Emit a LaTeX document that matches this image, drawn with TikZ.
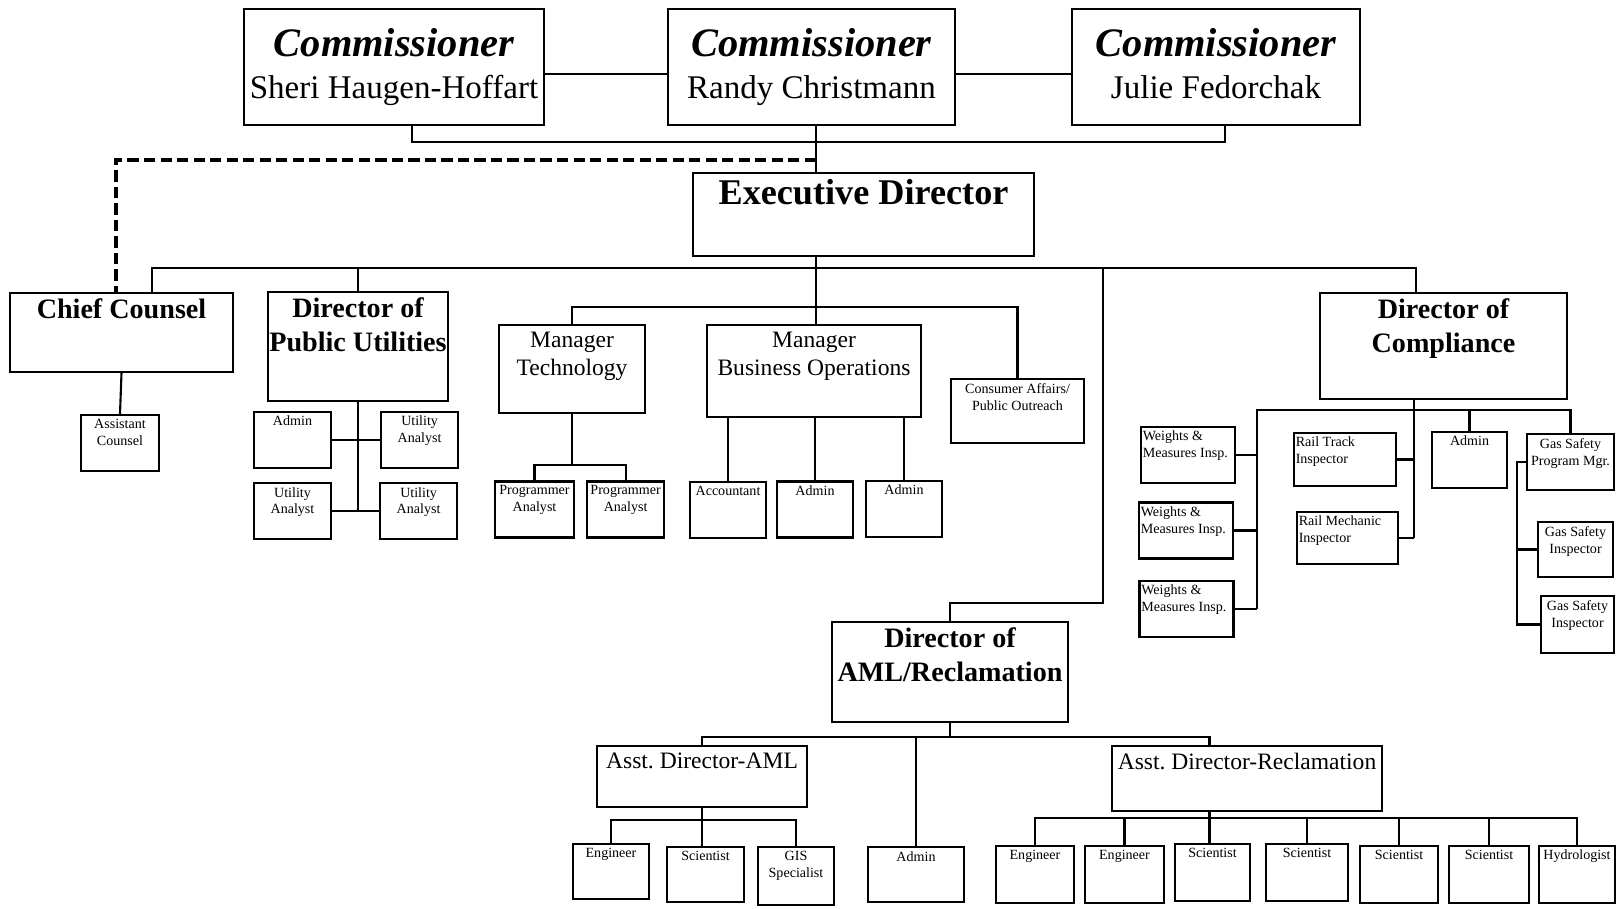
\documentclass[tikz,border=0pt]{standalone}
\usepackage{fontspec}
\setmainfont{Liberation Serif}
\usetikzlibrary{positioning}

\newcommand{\commtitle}{{\fontsize{11.5}{12.2}\selectfont\bfseries\itshape Commissioner}}

\begin{document}
\begin{tikzpicture}[
    box/.style={rectangle, draw, line width=0.6pt, inner sep=0pt},
    sbox/.style={box, minimum width=0.77cm, minimum height=0.56cm},
    commbox/.style={box, minimum height=1.16cm, align=center, font=\fontsize{9.4}{12.2}\selectfont},
    ttl/.style={font=\fontsize{8}{9.8}\selectfont\bfseries, align=center, anchor=north, inner sep=1.6pt},
    mgrtxt/.style={font=\fontsize{6.7}{8.2}\selectfont, align=center, anchor=north, inner sep=2pt},
    sm/.style={font=\fontsize{4}{4.8}\selectfont, align=center, anchor=north, inner sep=1.3pt},
    sml/.style={sm, align=left, anchor=north west, inner xsep=0.6pt},
    link/.style={line width=0.6pt},
    liaison/.style={line width=0.9pt, dash pattern=on 3.2pt off 1.5pt}
]
\useasboundingbox (0,0) rectangle (16.17,-9.08);
% Commissioners
\node[commbox, minimum width=3cm] (c1) at (3.94,-0.67) {\commtitle\\Sheri Haugen-Hoffart};
\node[commbox, minimum width=2.87cm] (c2) at (8.115,-0.67) {\commtitle\\Randy Christmann};
\node[commbox, minimum width=2.88cm] (c3) at (12.16,-0.67) {\commtitle\\Julie Fedorchak\vphantom{g}};
% Executive Director
\node[box, minimum width=3.41cm, minimum height=0.83cm,
      label={[ttl, font=\fontsize{10.3}{12}\selectfont\bfseries, inner sep=2pt]north:Executive Director}] (exec) at (8.635,-2.145) {};
% Directors
\node[box, minimum width=2.23cm, minimum height=0.79cm, label={[ttl]north:Chief Counsel}] (cc) at (1.215,-3.325) {};
\node[box, minimum width=1.8cm, minimum height=1.09cm, label={[ttl]north:Director of\\Public Utilities}] (dpu) at (3.58,-3.465) {};
\node[box, minimum width=2.47cm, minimum height=1.06cm, label={[ttl]north:Director of\\Compliance}] (comp) at (14.435,-3.46) {};
\node[box, minimum width=2.36cm, minimum height=1cm, label={[ttl]north:Director of\\AML/Reclamation}] (aml) at (9.5,-6.72) {};
% Managers
\node[box, minimum width=1.46cm, minimum height=0.88cm, label={[mgrtxt]north:Manager\\Technology}] (mtech) at (5.72,-3.69) {};
\node[box, minimum width=2.14cm, minimum height=0.92cm, label={[mgrtxt]north:Manager\\Business Operations}] (bizops) at (8.14,-3.71) {};
\node[box, minimum width=1.33cm, minimum height=0.64cm, label={[sm]north:Consumer Affairs/\\Public Outreach}] (cons) at (10.175,-4.11) {};
\node[box, minimum width=2.1cm, minimum height=0.61cm, label={[mgrtxt]north:Asst.\ Director-AML}] (aaml) at (7.02,-7.765) {};
\node[box, minimum width=2.7cm, minimum height=0.65cm, label={[mgrtxt]north:Asst.\ Director-Reclamation}] (arec) at (12.47,-7.785) {};
% Chief Counsel staff
\node[sbox, minimum width=0.78cm, label={[sm]north:Assistant\\Counsel}] (ac) at (1.2,-4.43) {};
% Public Utilities staff
\node[sbox, label={[sm]north:Admin}] (padm) at (2.925,-4.4) {};
\node[sbox, right=0.48cm of padm, label={[sm]north:Utility\\Analyst}] (ua1) {};
\node[sbox, below=0.13cm of padm, label={[sm]north:Utility\\Analyst}] (ua2) {};
\node[sbox, right=0.47cm of ua2, label={[sm]north:Utility\\Analyst}] (ua3) {};
% Technology staff
\node[sbox, minimum width=0.79cm, label={[sm]north:Programmer\\Analyst}] (pa1) at (5.345,-5.095) {};
\node[sbox, right=0.11cm of pa1, label={[sm]north:Programmer\\Analyst}] (pa2) {};
% Business Operations staff
\node[sbox, minimum width=0.76cm, label={[sm]north:Accountant}] (acc) at (7.28,-5.1) {};
\node[sbox, minimum width=0.76cm, label={[sm]north:Admin}] (badm1) at (8.15,-5.095) {};
\node[sbox, minimum width=0.76cm, label={[sm]north:Admin}] (badm2) at (9.04,-5.09) {};
% Compliance staff
\node[sbox, minimum width=0.94cm, label={[sml]north west:Weights \&\\Measures Insp.}] (wm1) at (11.88,-4.55) {};
\node[sbox, minimum width=0.94cm, label={[sml]north west:Weights \&\\Measures Insp.}] (wm2) at (11.86,-5.305) {};
\node[sbox, minimum width=0.94cm, label={[sml]north west:Weights \&\\Measures Insp.}] (wm3) at (11.865,-6.09) {};
\node[sbox, minimum width=1.02cm, minimum height=0.53cm, label={[sml]north west:Rail Track\\Inspector}] (rt) at (13.45,-4.595) {};
\node[sbox, minimum width=1.01cm, minimum height=0.52cm, label={[sml]north west:Rail Mechanic\\Inspector}] (rm) at (13.475,-5.38) {};
\node[sbox, minimum width=0.75cm, label={[sm]north:Admin}] (cadm) at (14.695,-4.6) {};
\node[sbox, minimum width=0.87cm, label={[sm]north:Gas Safety\\Program Mgr.}] (gspm) at (15.705,-4.62) {};
\node[sbox, minimum width=0.75cm, minimum height=0.55cm, label={[sm]north:Gas Safety\\Inspector}] (gs1) at (15.755,-5.495) {};
\node[sbox, minimum width=0.73cm, minimum height=0.57cm, label={[sm]north:Gas Safety\\Inspector}] (gs2) at (15.775,-6.245) {};
% AML staff
\node[sbox, minimum width=0.76cm, minimum height=0.55cm, label={[sm]north:Engineer}] (en0) at (6.11,-8.715) {};
\node[sbox, minimum height=0.55cm, label={[sm]north:Scientist}] (sc0) at (7.055,-8.745) {};
\node[sbox, minimum width=0.76cm, minimum height=0.58cm, label={[sm]north:GIS\\Specialist}] (gis) at (7.96,-8.76) {};
\node[sbox, minimum width=0.96cm, minimum height=0.55cm, label={[sm]north:Admin}] (aadm) at (9.16,-8.745) {};
% Reclamation staff
\node[sbox, minimum width=0.78cm, minimum height=0.57cm, label={[sm]north:Engineer}] (e1) at (10.35,-8.745) {};
\node[sbox, minimum width=0.79cm, minimum height=0.57cm, label={[sm]north:Engineer}] (e2) at (11.245,-8.745) {};
\node[sbox, minimum width=0.75cm, minimum height=0.57cm, label={[sm]north:Scientist}] (s1) at (12.125,-8.725) {};
\node[sbox, minimum width=0.82cm, minimum height=0.57cm, label={[sm]north:Scientist}] (s2) at (13.07,-8.725) {};
\node[sbox, minimum width=0.78cm, minimum height=0.57cm, label={[sm]north:Scientist}] (s3) at (13.99,-8.745) {};
\node[sbox, minimum width=0.8cm, minimum height=0.57cm, label={[sm]north:Scientist}] (s4) at (14.89,-8.745) {};
\node[sbox, minimum width=0.76cm, minimum height=0.57cm, label={[sm]north:Hydrologist}] (hy) at (15.77,-8.745) {};
% Commission lines
\coordinate (trunk) at (8.16,-1.42);
\coordinate (side) at (0,-0.74);
\coordinate (dropL) at (4.12,0);
\coordinate (dropR) at (12.25,0);
\draw[link] (c1.east |- side) -- (c2.west |- side);
\draw[link] (c2.east |- side) -- (c3.west |- side);
\draw[link] (dropL |- c1.south) |- (trunk) -| (dropR |- c3.south);
\draw[link] (c2.south -| trunk) -- (exec.north -| trunk);
\coordinate (adv) at (1.16,-1.6);
\draw[liaison] (adv -| trunk) -- (adv) -- (adv |- cc.north);
% Director row
\coordinate (rowL) at (1.52,-2.68);
\coordinate (rowR) at (14.16,-2.68);
\draw[link] (exec.south -| trunk) -- (bizops.north -| trunk);
\draw[link] (rowL |- cc.north) -- (rowL) -- (rowR) -- (rowR |- comp.north);
\draw[link] (dpu.north) -- (dpu.north |- rowL);
\coordinate (amlx) at (11.03,-6.03);
\draw[link] (amlx |- rowL) -- (amlx) -| (aml.north);
\coordinate (mgrbus) at (8.16,-3.07);
\draw[link] (mtech.north) |- (mgrbus) -| (cons.north);
% Chief Counsel and Public Utilities
\draw[link] (cc.south) -- (ac.north);
\draw[link] (dpu.south) -- (dpu.south |- ua2.east);
\draw[link] (padm.east) -- (ua1.west);
\draw[link] (ua2.east) -- (ua3.west);
% Technology and Business Operations
\coordinate (techbus) at (5.72,-4.65);
\draw[link] (mtech.south) -- (techbus);
\draw[link] (pa1.north) |- (techbus) -| (pa2.north);
\foreach \n in {acc,badm1,badm2}
    \draw[link] (\n.north) -- (\n.north |- bizops.south);
% Compliance
\coordinate (compbus) at (14.14,-4.1);
\coordinate (wmx) at (12.57,-4.1);
\coordinate (gasx) at (15.17,0);
\draw[link] (comp.south -| compbus) -- (compbus |- rm.east);
\draw[link] (wmx |- wm3.east) -- (wmx) -| (gspm.north);
\draw[link] (cadm.north) -- (cadm.north |- compbus);
\foreach \n in {wm1,wm2,wm3}
    \draw[link] (\n.east) -- (\n.east -| wmx);
\foreach \n in {rt,rm}
    \draw[link] (\n.east) -- (\n.east -| compbus);
\draw[link] (gspm.west) -| (gasx |- gs2.west) -- (gs2.west);
\draw[link] (gs1.west) -- (gs1.west -| gasx);
% AML / Reclamation
\coordinate (amlbus) at (12.095,-7.37);
\draw[link] (aml.south) -- (aml.south |- amlbus);
\draw[link] (aaml.north) |- (amlbus) -- (amlbus |- arec.north);
\draw[link] (aadm.north) -- (aadm.north |- amlbus);
\draw[link] (aaml.south) -- (aaml.south |- sc0.north);
\coordinate (amlsub) at (7.02,-8.2);
\draw[link] (en0.north) |- (amlsub) -| (gis.north);
\draw[link] (amlbus |- arec.south) -- (amlbus |- s1.north);
\coordinate (recbus) at (12.095,-8.18);
\draw[link] (e1.north) |- (recbus) -| (hy.north);
\foreach \n in {e2,s2,s3,s4}
    \draw[link] (\n.north) -- (\n.north |- recbus);
\end{tikzpicture}
\end{document}
